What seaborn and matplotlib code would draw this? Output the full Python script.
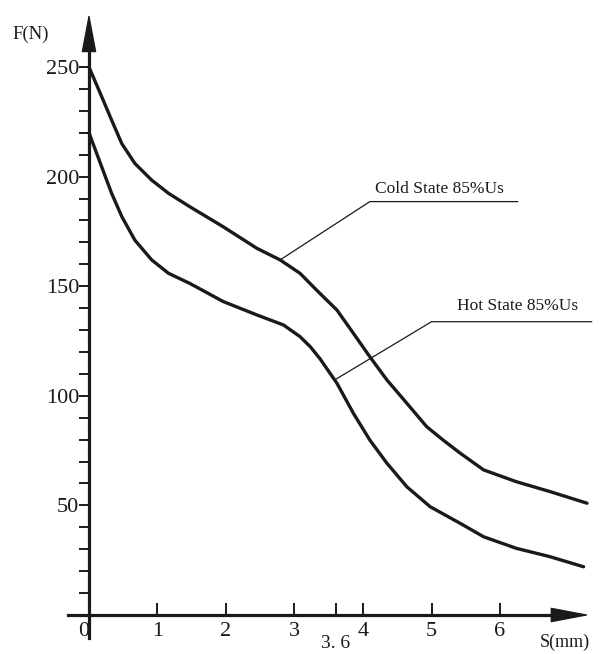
#!/usr/bin/env python3
# Force vs. stroke curves (cold / hot state, 85% Us)

import matplotlib
matplotlib.use("Agg")
import matplotlib.pyplot as plt
import seaborn as sns
import pandas as pd

# stroke S (mm) and force F (N)
cold_s = [0, 0.185, 0.33, 0.48, 0.67, 0.915, 1.16, 1.47, 1.96, 2.45, 2.79, 3.08,
          3.32, 3.62, 3.86, 4.1, 4.35, 4.64, 4.93, 5.17, 5.42, 5.76, 6.24, 6.73, 7.27]
cold_f = [250, 236.5, 225.8, 215, 206, 198.4, 192.4, 186.3, 177.1, 167.3, 162, 155.9,
          148.3, 139.1, 128.5, 117.8, 107.2, 96.6, 85.9, 79.8, 73.8, 66.2, 60.8, 56.3, 51]

hot_s = [0, 0.185, 0.33, 0.48, 0.67, 0.915, 1.16, 1.47, 1.96, 2.45, 2.84, 3.08,
         3.23, 3.37, 3.62, 3.86, 4.1, 4.35, 4.64, 4.98, 5.42, 5.76, 6.24, 6.73, 7.22]
hot_f = [220, 204.5, 192.4, 181.7, 171, 162, 155.9, 151.3, 143, 136.9, 132.3, 127,
         122.4, 117, 105.7, 92, 79.8, 69.2, 58.5, 49.4, 41.8, 35.7, 30.4, 26.6, 22]

x_ticks = [0, 1, 2, 3, 3.6, 4, 5, 6]
x_tick_labels = ["0", "1", "2", "3", "", "4", "5", "6"]
y_major = [50, 100, 150, 200, 250]
y_minor = list(range(10, 250, 10))

cold_label = "Cold State 85%Us"
hot_label = "Hot State 85%Us"
cold_leader_s = [2.79, 4.1, 6.26]
cold_leader_f = [162, 188.6, 188.6]
hot_leader_s = [3.59, 5.0, 7.34]
hot_leader_f = [107.3, 133.8, 133.8]

INK = "#1a1a1a"

sns.set_style("white")
plt.rcParams["font.family"] = ["Liberation Serif", "DejaVu Serif"]

fig = plt.figure(figsize=(5.99, 6.54), dpi=100)
ax = fig.add_axes([0, 0, 1, 1])
ax.set_xlim(-1.299, 7.445)
ax.set_ylim(-17.79, 280.57)

cold = pd.DataFrame({"S": cold_s, "F": cold_f})
hot = pd.DataFrame({"S": hot_s, "F": hot_f})
for df in (cold, hot):
    sns.lineplot(data=df, x="S", y="F", ax=ax, color=INK, lw=2.4, legend=False,
                 solid_joinstyle="round", solid_capstyle="round")

# leader lines + labels
ax.plot(cold_leader_s, cold_leader_f, color=INK, lw=0.9, clip_on=False)
ax.plot(hot_leader_s, hot_leader_f, color=INK, lw=0.9, clip_on=False)
ax.text(4.18, 194.5, cold_label, fontsize=12.5, color=INK, va="center", ha="left")
ax.text(5.37, 141, hot_label, fontsize=12.5, color=INK, va="center", ha="left")

# axes through the origin
for side in ["top", "right"]:
    ax.spines[side].set_visible(False)
ax.spines["left"].set_position(("data", 0))
ax.spines["bottom"].set_position(("data", 0))
ax.spines["left"].set_bounds(-10.5, 262)
ax.spines["bottom"].set_bounds(-0.31, 7.0)
for side in ["left", "bottom"]:
    ax.spines[side].set_linewidth(2.3)
    ax.spines[side].set_color(INK)

arrow = dict(arrowstyle="-|>,head_length=1.0,head_width=0.19", color=INK,
             lw=1, mutation_scale=25, shrinkA=0, shrinkB=0)
ax.annotate("", xy=(0, 274.6), xytext=(0, 258), arrowprops=arrow, annotation_clip=False)
ax.annotate("", xy=(7.31, 0), xytext=(6.95, 0), arrowprops=arrow, annotation_clip=False)

ax.set_yticks(y_major)
ax.set_yticks(y_minor, minor=True)
ax.set_yticklabels([str(v) for v in y_major])
ax.set_xticks(x_ticks)
ax.set_xticklabels(x_tick_labels)
ax.get_xticklabels()[0].set_ha("right")

ax.tick_params(axis="y", which="both", direction="out", length=7, width=1.4,
               color=INK, labelsize=16, labelcolor=INK, pad=0, left=True)
ax.tick_params(axis="x", which="both", direction="in", length=9, width=1.4,
               color=INK, labelsize=16, labelcolor=INK, pad=5, bottom=True)

ax.text(3.6, -13.2, "3. 6", fontsize=14, color=INK, ha="center", va="center")
ax.text(-0.85, 265, "F(N)", fontsize=13.5, color=INK, ha="center", va="center")
ax.text(6.95, -12.6, "S(mm)", fontsize=13, color=INK, ha="center", va="center")

ax.set_xlabel("")
ax.set_ylabel("")

fig.savefig("out.png", dpi=100)
